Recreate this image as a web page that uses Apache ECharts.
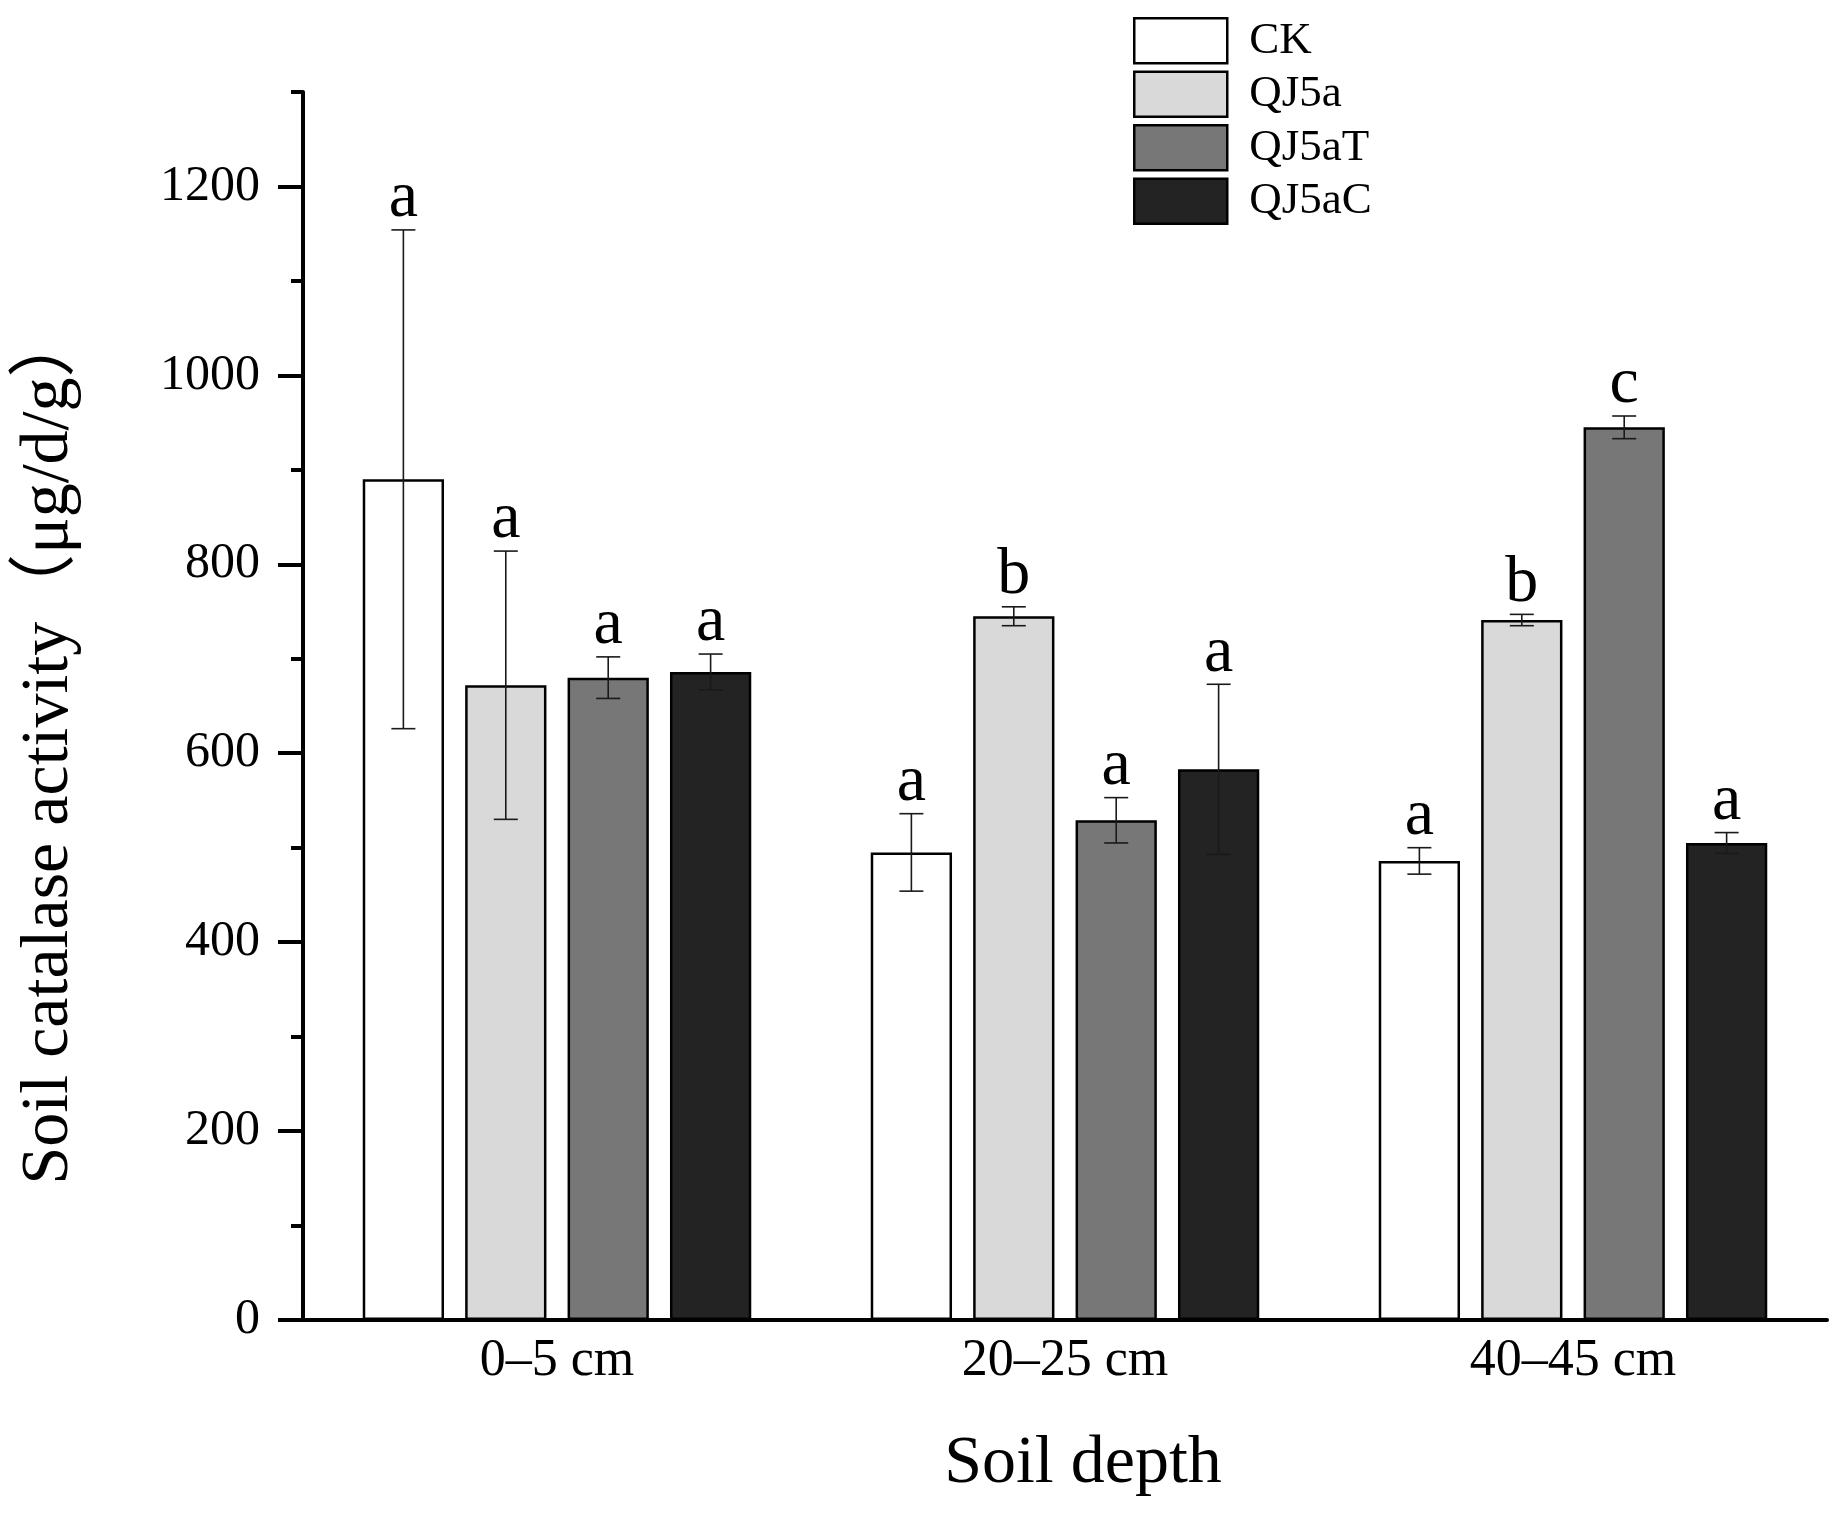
<!DOCTYPE html>
<html>
<head>
<meta charset="utf-8">
<title>Soil catalase activity</title>
<script src="https://cdn.jsdelivr.net/npm/echarts@6/dist/echarts.min.js"></script>
<style>
	html, body { margin: 0; padding: 0; background: #fff; }
	#main { width: 1842px; height: 1516px; }
</style>
</head>
<body>
<div id="main"></div>
<script>
// 数据
var categories = [ '0–5 cm', '20–25 cm', '40–45 cm' ];
var seriesNames = [ 'CK', 'QJ5a', 'QJ5aT', 'QJ5aC' ];

var ckMean = [ 890, 495, 486 ];
var ckErr = [ 264, 41, 14 ];
var ckLetter = [ 'a', 'a', 'a' ];

var qj5aMean = [ 672, 745, 741 ];
var qj5aErr = [ 142, 10, 6 ];
var qj5aLetter = [ 'a', 'b', 'b' ];

var qj5aTMean = [ 680, 529, 945 ];
var qj5aTErr = [ 22, 24, 12 ];
var qj5aTLetter = [ 'a', 'a', 'c' ];

var qj5aCMean = [ 686, 583, 505 ];
var qj5aCErr = [ 19, 90, 11 ];
var qj5aCLetter = [ 'a', 'a', 'a' ];

var yMajorTicks = [ 0, 200, 400, 600, 800, 1000, 1200 ];

var means = [ ckMean, qj5aMean, qj5aTMean, qj5aCMean ];
var errs = [ ckErr, qj5aErr, qj5aTErr, qj5aCErr ];
var letters = [ ckLetter, qj5aLetter, qj5aTLetter, qj5aCLetter ];
var fills = [ '#ffffff', '#d9d9d9', '#777777', '#232323' ];

var FONT = "'Liberation Serif', 'Noto Sans CJK SC', serif";
var BAR_WIDTH = 0.16; // 占类目宽度
var BAR_GAP = 0.26; // 相对柱宽

var chart = echarts.init(document.getElementById('main'));

// 柱子
var series = [];
for (var s = 0; s < seriesNames.length; s++) {
	series.push({
		name : seriesNames[s],
		type : 'bar',
		data : means[s],
		barWidth : (BAR_WIDTH * 100) + '%',
		barGap : (BAR_GAP * 100) + '%',
		itemStyle : {
			color : fills[s],
			borderColor : '#000',
			borderWidth : 2.5
		},
		emphasis : {
			disabled : true
		}
	});
}

// 误差线 + 字母
var errRows = [];
for (var s2 = 0; s2 < means.length; s2++) {
	for (var c = 0; c < categories.length; c++) {
		errRows.push([ c, s2, means[s2][c], errs[s2][c] ]);
	}
}
series.push({
	type : 'custom',
	data : errRows,
	encode : {
		x : 0,
		y : 2
	},
	z : 10,
	silent : true,
	renderItem : function(params, api) {
		var c = api.value(0);
		var s = api.value(1);
		var m = api.value(2);
		var e = api.value(3);
		var band = api.size([ 1, 0 ])[0];
		var step = band * BAR_WIDTH * (1 + BAR_GAP);
		var x = api.coord([ c, 0 ])[0] + (s - 1.5) * step;
		var top = api.coord([ c, m + e ])[1];
		var bot = api.coord([ c, m - e ])[1];
		var half = 12;
		var ls = {
			stroke : '#1a1a1a',
			lineWidth : 1.6
		};
		return {
			type : 'group',
			children : [ {
				type : 'line',
				shape : { x1 : x, y1 : top, x2 : x, y2 : bot },
				style : ls
			}, {
				type : 'line',
				shape : { x1 : x - half, y1 : top, x2 : x + half, y2 : top },
				style : ls
			}, {
				type : 'line',
				shape : { x1 : x - half, y1 : bot, x2 : x + half, y2 : bot },
				style : ls
			}, {
				type : 'text',
				style : {
					text : letters[s][c],
					x : x,
					y : top + 2,
					align : 'center',
					verticalAlign : 'bottom',
					fill : '#000',
					font : '66px ' + FONT
				}
			} ]
		};
	}
});

var option = {
	backgroundColor : '#fff',
	animation : false,
	textStyle : {
		fontFamily : FONT,
		color : '#000'
	},
	grid : {
		left : 303,
		right : 15,
		top : 92,
		bottom : 196,
		containLabel : false
	},
	legend : {
		orient : 'vertical',
		left : 1133,
		top : 17,
		padding : 0,
		itemWidth : 93,
		itemHeight : 45,
		itemGap : 6,
		icon : 'rect',
		selectedMode : false,
		data : seriesNames,
		itemStyle : {
			borderColor : '#000',
			borderWidth : 2.5
		},
		textStyle : {
			fontFamily : FONT,
			fontSize : 45,
			lineHeight : 45,
			color : '#000',
			padding : [ 0, 0, 0, 17 ]
		}
	},
	xAxis : {
		type : 'category',
		data : categories,
		name : 'Soil depth',
		nameLocation : 'middle',
		nameGap : 110,
		nameTextStyle : {
			fontFamily : FONT,
			fontSize : 68,
			color : '#000',
			padding : [ 0, 0, 0, 36 ]
		},
		axisLine : {
			lineStyle : {
				color : '#000',
				width : 4
			}
		},
		axisTick : {
			show : false
		},
		axisLabel : {
			fontFamily : FONT,
			fontSize : 52,
			color : '#000',
			margin : 15
		},
		splitLine : {
			show : false
		}
	},
	yAxis : [ {
		type : 'value',
		min : 0,
		max : 1300,
		interval : 100,
		name : 'Soil catalase activity（μg/d/g）',
		nameLocation : 'middle',
		nameGap : 220,
		nameTextStyle : {
			fontFamily : FONT,
			fontSize : 68,
			color : '#000',
			padding : [ 0, 82, 0, 0 ]
		},
		axisLine : {
			show : true,
			lineStyle : {
				color : '#000',
				width : 4
			}
		},
		axisTick : {
			show : true,
			length : 12,
			lineStyle : {
				color : '#000',
				width : 4
			}
		},
		axisLabel : {
			show : false
		},
		splitLine : {
			show : false
		}
	}, {
		type : 'value',
		min : 0,
		max : 1300,
		position : 'left',
		axisLine : {
			show : false
		},
		axisTick : {
			show : true,
			length : 25,
			customValues : yMajorTicks,
			lineStyle : {
				color : '#000',
				width : 4
			}
		},
		axisLabel : {
			customValues : yMajorTicks,
			fontFamily : FONT,
			fontSize : 50,
			color : '#000',
			margin : 43,
			formatter : function(v) {
				return String(v);
			}
		},
		splitLine : {
			show : false
		}
	} ],
	series : series
};
chart.setOption(option);
</script>
</body>
</html>
